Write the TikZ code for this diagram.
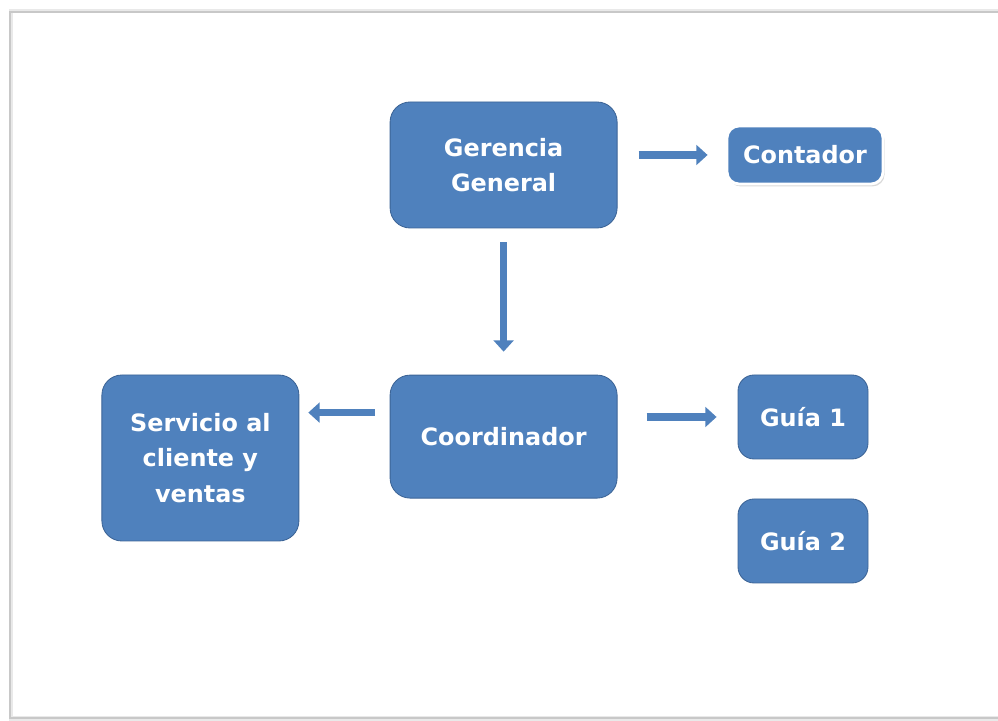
\documentclass[tikz,border=0pt]{standalone}
\usepackage{fontspec}
\setmainfont{DejaVu Sans}
\usetikzlibrary{arrows.meta,positioning,shadows,calc}
\definecolor{boxblue}{RGB}{79,129,189}
\definecolor{boxedge}{RGB}{60,100,150}
\definecolor{framegray}{RGB}{200,200,200}

\tikzset{
  orgbox/.style={fill=boxblue,draw=boxedge,line width=0.6pt,rounded corners=0.5cm,
    text=white,font=\bfseries\fontsize{17}{25}\selectfont,align=center,inner sep=0pt},
  orgarrow/.style={boxblue,line width=5.5pt,-{Triangle[length=8pt,width=14pt]}}
}

\begin{document}
\begin{tikzpicture}
        \useasboundingbox (0,0) rectangle (24.95,18.025);
        % frame with a soft edge
        \draw[framegray!40,line width=3pt] (24.95,17.74) -- (0.28,17.74) -- (0.28,0.06) -- (24.95,0.06);
        \draw[framegray,line width=1pt] (24.95,17.725) -- (0.25,17.725) -- (0.25,0.075) -- (24.95,0.075);

        % nodes
        \node[orgbox,minimum width=5.675cm,minimum height=3.15cm] (gerencia) at (12.59,13.9) {Gerencia\\General};
        \node[orgbox,minimum width=3.9cm,minimum height=1.45cm,draw=white,line width=2pt,rounded corners=0.3cm,
          drop shadow={opacity=0.3,shadow xshift=0.04cm,shadow yshift=-0.06cm}] (contador) at (20.125,14.15) {Contador};
        \node[orgbox,minimum width=5.675cm,minimum height=3.075cm] (coord) at (12.59,7.11) {Coordinador};
        \node[orgbox,minimum width=4.925cm,minimum height=4.15cm] (servicio) at (5.01,6.575) {Servicio al\\cliente y\\ventas};
        \node[orgbox,minimum width=3.25cm,minimum height=2.1cm,rounded corners=0.4cm] (guia1) at (20.075,7.6) {Guía 1};
        \node[orgbox,minimum width=3.25cm,minimum height=2.1cm,rounded corners=0.4cm] (guia2) at (20.075,4.5) {Guía 2};

        % arrows
        \draw[orgarrow,shorten <=0.525cm,shorten >=0.45cm] (gerencia.east |- contador.west) -- (contador.west);
        \draw[orgarrow,shorten <=0.35cm,shorten >=0.575cm] (gerencia.south) -- (coord.north);
        \draw[orgarrow,shorten <=0.375cm,shorten >=0.225cm] ([yshift=0.6cm]coord.west) -- ([yshift=0.6cm]coord.west -| servicio.east);
        \draw[orgarrow,shorten <=0.725cm,shorten >=0.525cm] (coord.east |- guia1.west) -- (guia1.west);
      \end{tikzpicture}
\end{document}
